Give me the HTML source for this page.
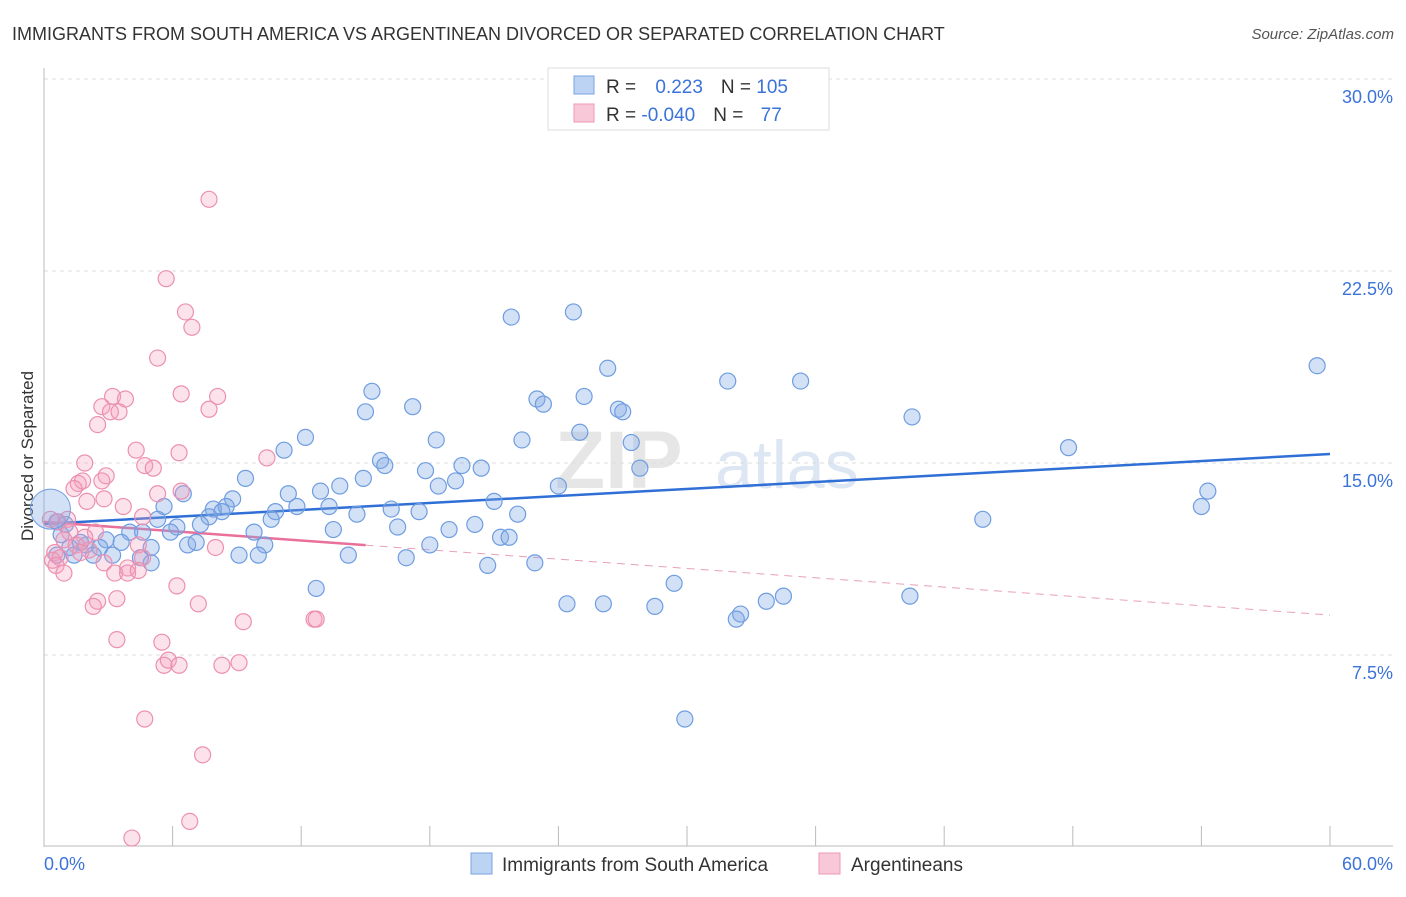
<!DOCTYPE html>
<html><head><meta charset="utf-8"><style>
body{margin:0;background:#fff;font-family:"Liberation Sans",sans-serif;}
svg text{font-family:"Liberation Sans",sans-serif;}
</style></head><body>
<svg id="chart" width="1406" height="892" xmlns="http://www.w3.org/2000/svg">
<text x="12" y="40" font-size="18" fill="#333">IMMIGRANTS FROM SOUTH AMERICA VS ARGENTINEAN DIVORCED OR SEPARATED CORRELATION CHART</text>
<text x="1394" y="39" font-size="15" fill="#555" font-style="italic" text-anchor="end">Source: ZipAtlas.com</text>
<text x="33" y="456" font-size="17" fill="#333" text-anchor="middle" transform="rotate(-90 33 456)">Divorced or Separated</text>
<g><text x="555" y="488" font-size="82" fill="#e6e6e6" font-family="Liberation Serif" font-weight="bold">ZIP</text><text x="715" y="488" font-size="68" fill="#dde6f3">atlas</text></g>
<g id="grid"></g><g id="axes"></g><g id="lines"></g><g id="pts"></g>
<g>
<rect x="548" y="68" width="281" height="62" fill="#fff" stroke="#ddd"/>
<rect x="574" y="76" width="20" height="18" fill="#bcd3f4" stroke="#7aa3e0"/>
<rect x="574" y="104" width="20" height="18" fill="#f9c8d8" stroke="#ec9ab7"/>
<text x="606" y="93" font-size="19" fill="#333">R = <tspan fill="#3b73d8" dx="14">0.223</tspan><tspan fill="#333" dx="18">N = </tspan><tspan fill="#3b73d8">105</tspan></text>
<text x="606" y="121" font-size="19" fill="#333">R = <tspan fill="#3b73d8">-0.040</tspan><tspan fill="#333" dx="18">N = </tspan><tspan fill="#3b73d8" dx="12">77</tspan></text>
</g>
<g>
<rect x="471" y="853" width="21" height="21" fill="#bcd3f4" stroke="#7aa3e0"/>
<text x="502" y="871" font-size="19" fill="#333">Immigrants from South America</text>
<rect x="819" y="853" width="21" height="21" fill="#f9c8d8" stroke="#ec9ab7"/>
<text x="851" y="871" font-size="19" fill="#333">Argentineans</text>
</g>
</svg>
<script>
const yTicks=[7.5,15,22.5,30];
const xTickCount=[0,6,12,18,24,30,36,42,48,54,60];
const blueX=[21.8,24.7,59.4,26.3,31.9,35.3,15.3,23.0,23.3,25.2,17.2,15.0,26.8,27.0,40.5,25.0,12.2,18.3,22.3,27.4,47.8,11.2,15.7,15.9,19.5,20.4,17.8,27.8,9.4,14.9,19.2,18.4,24.0,13.8,6.5,8.8,11.4,12.9,54.3,54.0,21.0,5.6,8.5,11.8,13.3,7.9,8.3,10.8,14.6,16.2,17.5,22.1,7.7,10.6,5.3,43.8,6.2,7.3,13.5,16.5,18.9,20.1,4.0,5.9,9.8,4.6,21.3,21.7,2.9,3.6,6.7,7.1,10.3,18.0,1.96,2.6,3.2,5.0,9.1,10.0,14.2,16.9,2.3,1.4,4.5,5.0,20.7,22.9,12.7,29.4,24.4,26.1,28.5,33.7,34.5,40.4,32.5,32.3,29.9,0.6,0.8,1.2,1.7,0.6,1.0];
const blueY=[20.7,20.9,18.8,18.7,18.2,18.2,17.8,17.5,17.3,17.6,17.2,17.0,17.1,17.0,16.8,16.2,16.0,15.9,15.9,15.8,15.6,15.5,15.1,14.9,14.9,14.8,14.7,14.8,14.4,14.4,14.3,14.1,14.1,14.1,13.8,13.6,13.8,13.9,13.9,13.3,13.5,13.3,13.3,13.3,13.3,13.2,13.1,13.1,13.0,13.2,13.1,13.0,12.9,12.8,12.8,12.8,12.5,12.6,12.4,12.5,12.4,12.6,12.3,12.3,12.3,12.3,12.1,12.1,12.0,11.9,11.8,11.9,11.8,11.8,11.8,11.7,11.4,11.7,11.4,11.4,11.4,11.3,11.4,11.4,11.3,11.1,11.0,11.1,10.1,10.3,9.5,9.5,9.4,9.6,9.8,9.8,9.1,8.9,5.0,12.7,12.2,11.7,11.9,11.4,12.6];
const pinkX=[7.7,5.7,6.6,6.9,5.3,3.2,3.8,6.4,8.1,2.7,3.1,3.5,7.7,2.5,4.3,6.3,10.4,1.9,4.7,5.1,2.9,1.6,1.8,2.7,1.4,5.3,6.4,2.8,2.0,3.7,4.6,1.1,0.65,0.3,1.2,2.4,1.9,0.93,1.5,2.1,1.7,0.5,0.4,0.75,0.56,4.4,4.6,8.0,2.8,0.93,3.9,3.3,3.9,4.4,6.2,3.4,2.5,2.3,7.2,9.3,12.6,12.7,3.4,5.5,5.6,5.8,6.3,8.3,9.1,4.7,7.4,6.8,4.1];
const pinkY=[25.3,22.2,20.9,20.3,19.1,17.6,17.5,17.7,17.6,17.2,17.0,17.0,17.1,16.5,15.5,15.4,15.2,15.0,14.9,14.8,14.5,14.2,14.3,14.3,14.0,13.8,13.9,13.6,13.5,13.3,12.9,12.8,12.7,12.8,12.3,12.3,12.1,12.0,11.8,11.6,11.5,11.5,11.2,11.3,11.0,11.8,11.3,11.7,11.1,10.7,10.9,10.7,10.7,10.8,10.2,9.7,9.6,9.4,9.5,8.8,8.9,8.9,8.1,8.0,7.1,7.3,7.1,7.1,7.2,5.0,3.6,1.0,0.35];
const blueTrend=[12.62,15.35];
const pinkTrend=[12.7,9.06];
const pinkSolidEnd=15;
const X=v=>44+v*(1330-44)/60;
const Y=v=>847-v*(847-79)/30;
const NS="http://www.w3.org/2000/svg";
function mk(tag,attrs,parent){const e=document.createElementNS(NS,tag);for(const k in attrs)e.setAttribute(k,attrs[k]);document.getElementById(parent).appendChild(e);return e;}
yTicks.forEach(t=>{
 const l=mk('line',{x1:44,x2:1393,y1:Y(t),y2:Y(t),stroke:'#ddd','stroke-dasharray':'4,4'},'grid');
 
 
 const tx=mk('text',{x:1393,y:Y(t)+24,'font-size':18,fill:'#3b73d8','text-anchor':'end'},'axes');
 tx.textContent=t.toFixed(1)+'%';
 
 
});
const ax=mk('line',{x1:44,x2:44,y1:68,y2:847,stroke:'#bbb'},'axes');


const bx=mk('line',{x1:44,x2:1393,y1:846,y2:846,stroke:'#bbb'},'axes');


xTickCount.forEach(t=>{
 const l=mk('line',{x1:X(t),x2:X(t),y1:826,y2:846,stroke:'#bbb'},'axes');
 
 
});
[[0,'0.0%','start',44],[60,'60.0%','end',1393]].forEach(a=>{
 const tx=mk('text',{x:a[3],y:870,'font-size':18,fill:'#3b73d8','text-anchor':a[2]},'axes');
 tx.textContent=a[1];
 
 
});
function pts(xs,ys,fill,stroke,name){xs.forEach((x,i)=>{
 const c=mk('circle',{cx:X(x),cy:Y(ys[i]),r:8,fill:fill,stroke:stroke,'stroke-width':1.2},'pts');
 
 
});}
pts(blueX,blueY,'rgba(130,170,230,0.35)','#6f9de0','blue-point');
pts(pinkX,pinkY,'rgba(245,160,190,0.3)','#ec90b0','pink-point');
const big=mk('circle',{cx:X(0.3),cy:Y(13.2),r:20,fill:'rgba(130,170,230,0.35)',stroke:'#6f9de0'},'pts');


const bl=mk('line',{x1:X(0),y1:Y(blueTrend[0]),x2:X(60),y2:Y(blueTrend[1]),stroke:'#2f6fd6','stroke-width':2.5},'lines');


const pv=x=>pinkTrend[0]+(pinkTrend[1]-pinkTrend[0])*x/60;
const ps=mk('line',{x1:X(0),y1:Y(pv(0)),x2:X(pinkSolidEnd),y2:Y(pv(pinkSolidEnd)),stroke:'#e8709a','stroke-width':2.5},'lines');


const pd=mk('line',{x1:X(pinkSolidEnd),y1:Y(pv(pinkSolidEnd)),x2:X(60),y2:Y(pv(60)),stroke:'#e8a0b8','stroke-width':1,'stroke-dasharray':'8,6'},'lines');


</script>
</body></html>
